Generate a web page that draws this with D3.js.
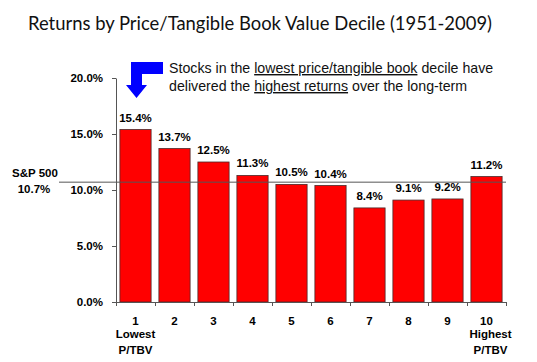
<!DOCTYPE html>
<html>
<head>
<meta charset="utf-8">
<script src="https://cdn.jsdelivr.net/npm/d3@7"></script>
<style>
  body { margin: 0; background: #fff; }
  svg text { font-family: "Liberation Sans", Arial, sans-serif; }
</style>
</head>
<body>
<div id="chart"></div>
<script>
// returns by P/TBV decile
var deciles = ["1", "2", "3", "4", "5", "6", "7", "8", "9", "10"];
var returns = [15.4, 13.7, 12.5, 11.3, 10.5, 10.4, 8.4, 9.1, 9.2, 11.2];
var yTicks = [0, 5, 10, 15, 20];
var sp500 = 10.7;
var firstLabel = ["Lowest", "P/TBV"];
var lastLabel = ["Highest", "P/TBV"];

var width = 537;
var height = 362;

var svg = d3.select("#chart").append("svg")
    .attr("width", width)
    .attr("height", height);

var x = d3.scaleBand()
    .domain(deciles)
    .range([116, 506])
    .paddingInner(0.2)
    .paddingOuter(0.1);

// used only for the tick marks at the band edges
var xEdges = d3.scaleLinear().domain([0, 10]).range([116, 506]);

var y = d3.scaleLinear().domain([0, 20]).range([302, 78]);

// title
svg.append("text")
    .attr("x", 260)
    .attr("y", 30)
    .attr("text-anchor", "middle")
    .attr("textLength", 464)
    .attr("lengthAdjust", "spacingAndGlyphs")
    .style("font-family", "Lato, 'Open Sans', sans-serif")
    .style("font-size", "19.5px")
    .attr("fill", "#111")
    .text("Returns by Price/Tangible Book Value Decile (1951-2009)");

// bars
svg.selectAll("rect.bar")
    .data(returns)
    .enter()
    .append("rect")
    .attr("class", "bar")
    .attr("x", function(d, i) { return x(deciles[i]); })
    .attr("y", function(d) { return y(d); })
    .attr("width", x.bandwidth())
    .attr("height", function(d) { return y(0) - y(d); })
    .attr("fill", "#ff0000")
    .attr("stroke", "#4a2a2a")
    .attr("stroke-width", 0.8);

// value labels
svg.selectAll("text.val")
    .data(returns)
    .enter()
    .append("text")
    .attr("class", "val")
    .attr("x", function(d, i) { return x(deciles[i]) + x.bandwidth() / 2; })
    .attr("y", function(d) { return y(d) - 8; })
    .attr("text-anchor", "middle")
    .style("font-size", "11.5px")
    .style("font-weight", "bold")
    .text(function(d) { return d.toFixed(1) + "%"; });

// y axis
var yAxis = svg.append("g")
    .attr("transform", "translate(116,0)")
    .call(d3.axisLeft(y)
        .tickValues(yTicks)
        .tickFormat(function(d) { return d.toFixed(1) + "%"; })
        .tickSize(4)
        .tickSizeOuter(0)
        .tickPadding(9));
yAxis.selectAll("text")
    .style("font-size", "11.5px")
    .style("font-weight", "bold")
    .style("font-family", "'Liberation Sans', Arial, sans-serif")
    .attr("fill", "#000");
yAxis.selectAll("path, line").attr("stroke", "#555");

// x axis, ticks between the bars
var xAxis = svg.append("g")
    .attr("transform", "translate(0,302)")
    .call(d3.axisBottom(xEdges)
        .ticks(10)
        .tickFormat("")
        .tickSize(4)
        .tickSizeOuter(0));
xAxis.selectAll("path, line").attr("stroke", "#555");

// decile numbers
svg.selectAll("text.cat")
    .data(deciles)
    .enter()
    .append("text")
    .attr("class", "cat")
    .attr("x", function(d) { return x(d) + x.bandwidth() / 2; })
    .attr("y", 325)
    .attr("text-anchor", "middle")
    .style("font-size", "11.5px")
    .style("font-weight", "bold")
    .text(function(d) { return d; });

function subLabel(cat, lines, dx) {
  var cx = x(cat) + x.bandwidth() / 2 + dx;
  svg.append("text").attr("x", cx).attr("y", 338)
      .attr("text-anchor", "middle")
      .style("font-size", "11.5px").style("font-weight", "bold")
      .text(lines[0]);
  svg.append("text").attr("x", cx).attr("y", 354)
      .attr("text-anchor", "middle")
      .style("font-size", "11.5px").style("font-weight", "bold")
      .text(lines[1]);
}
subLabel(deciles[0], firstLabel, 0);
subLabel(deciles[9], lastLabel, 4);

// S&P 500 reference line
svg.append("line")
    .attr("x1", 59)
    .attr("x2", 506)
    .attr("y1", y(sp500))
    .attr("y2", y(sp500))
    .attr("stroke", "#555")
    .attr("stroke-width", 1);

svg.append("text")
    .attr("x", 35).attr("y", y(sp500) - 5)
    .attr("text-anchor", "middle")
    .style("font-size", "11.5px").style("font-weight", "bold")
    .text("S&P 500");
svg.append("text")
    .attr("x", 34).attr("y", y(sp500) + 11)
    .attr("text-anchor", "middle")
    .style("font-size", "11.5px").style("font-weight", "bold")
    .text(sp500.toFixed(1) + "%");

// blue bent arrow pointing at decile 1
var ax = x(deciles[0]) + x.bandwidth() / 2 + 1;
svg.append("path")
    .attr("d", "M" + (ax - 5.5) + ",62 L163,62 L163,74 L" + (ax + 5.5) + ",74 L" + (ax + 5.5) + ",85 L" +
        (ax + 10.5) + ",85 L" + ax + ",98 L" + (ax - 10.5) + ",85 L" + (ax - 5.5) + ",85 Z")
    .attr("fill", "#0000ff");

// annotation
var note = svg.append("g")
    .style("font-family", "Lato, 'Open Sans', sans-serif")
    .style("font-size", "14.2px")
    .attr("fill", "#111");

var line1 = note.append("text").attr("x", 169).attr("y", 73);
line1.append("tspan").text("Stocks in the ");
line1.append("tspan").style("text-decoration", "underline").text("lowest price/tangible book");
line1.append("tspan").text(" decile have");

var line2 = note.append("text").attr("x", 169).attr("y", 91);
line2.append("tspan").text("delivered the ");
line2.append("tspan").style("text-decoration", "underline").text("highest returns");
line2.append("tspan").text(" over the long-term");
</script>
</body>
</html>
